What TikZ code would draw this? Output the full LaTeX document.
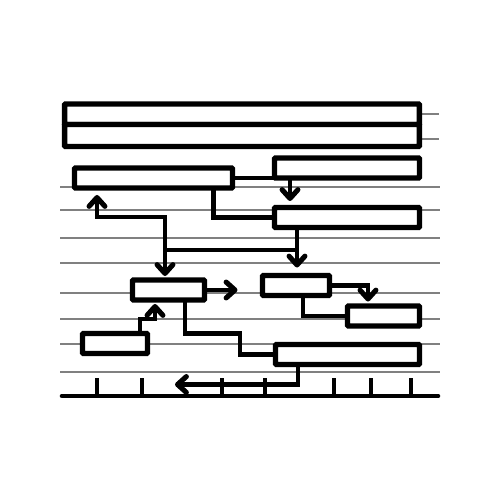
\documentclass[tikz,border=0pt]{standalone}
\usetikzlibrary{arrows.meta,calc}

\begin{document}
\begin{tikzpicture}[x=0.02cm,y=-0.02cm,
    >={Straight Barb[round,length=5pt,width=9pt,line width=2.9pt]},
    conn/.style={line width=2.6pt},
    grid/.style={gray,line width=1.1pt}]
  \useasboundingbox (0,0) rectangle (500,500);
  % rows of the chart
  \foreach \y in {187,210,238,263,293,319,344,372}
    \draw[grid] (60,\y) -- (440,\y);
  \draw[grid] (420,114) -- (439,114);
  \draw[grid] (420,139) -- (439,139);
  % time axis
  \draw[line width=2.6pt,line cap=round] (62,396) -- (438,396);
  \foreach \x in {97,142,222,265,334,371,411}
    \draw[line width=2.1pt] (\x,378) -- (\x,396);

  \begin{scope}[every node/.style={draw,rectangle,fill=white,line width=3.1pt,
      rounded corners=0.6pt,inner sep=0pt,outer sep=0pt,minimum height=0.4cm}]
    \node (T1) [minimum width=7.1cm,minimum height=0.41cm] at (242,114.25) {};
    \node (T2) [minimum width=7.1cm,minimum height=0.44cm] at (242,135.5) {};
    \node (A) [minimum width=3.16cm] at (153.5,178) {};
    \node (B) [minimum width=2.9cm] at (347,168) {};
    \node (C) [minimum width=2.9cm] at (347,217.5) {};
    \node (D) [minimum width=1.44cm] at (168.5,290) {};
    \node (E) [minimum width=1.34cm] at (296,285.5) {};
    \node (F) [minimum width=1.44cm] at (383.5,316) {};
    \node (G) [minimum width=1.3cm] at (115,343.5) {};
    \node (H) [minimum width=2.88cm] at (347.5,354.5) {};
  \end{scope}

  \begin{scope}[every path/.style={conn}]
    \draw (A.east) -- (A.east -| B.west);
    \draw[->] (B.south) ++(-57,0) -- ++(0,23);
    \draw (A.south) ++(60,0) |- (C.west);
    \draw[<->] (A.south) ++(-56.5,7) -- ++(0,22) -| ($(D.north)+(-3.5,-4)$);
    \draw[->] (C.south) ++(-50,0) -- ++(0,40);
    \draw (C.south) ++(-50,22.5) -- ++(-132,0);
    \draw[->] (D.east) -- ++(33,0);
    \draw[->] (E.east) -| ++(38.5,16);
    \draw (E.south) ++(7,0) |- (F.west);
    \draw[->] (G.north) ++(25,0) -- ++(0,-14.5) -| ($(D.south)+(-13.5,4)$);
    \draw (D.south) ++(16.5,0) |- ++(55,33.5) |- (H.west);
    \draw[->] (H.south) ++(-49.5,0) |- ++(-123,20);
  \end{scope}
\end{tikzpicture}
\end{document}
